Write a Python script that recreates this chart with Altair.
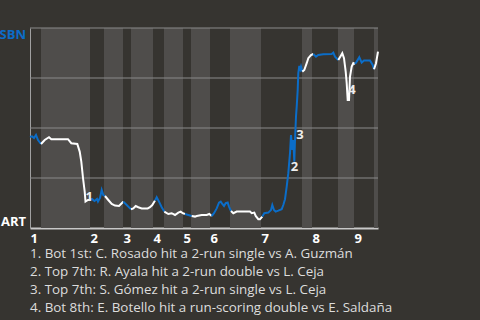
import altair as alt
import pandas as pd

# half-inning boundaries along the game timeline (top halves = SBN batting)
half_bounds = [0, 11, 60, 74, 93, 101, 123, 134, 153, 161, 180, 200, 231, 272, 282, 308, 324, 344, 348]
inning_labels = ["1", "2", "3", "4", "5", "6", "7", "8", "9"]

# win probability for SBN (%) along the game timeline
wp_x = [0, 2, 4, 6, 8, 11, 14.7, 19, 21.3, 38, 41.3, 47.3, 49.7, 51.3, 53, 54.7, 55.5, 58, 60,
        62, 64.5, 67, 68, 70, 71.7, 73.3, 75, 78.3, 81.7, 85, 89, 91, 93.3, 96.7, 99.3, 101,
        103.3, 105.7, 108.3, 111.7, 117.7, 120, 122.3, 125, 126.7, 129, 131.7, 134.3, 138.3,
        141.7, 145, 148.3, 150.7, 152.7, 155, 158.3, 161.7, 165, 166.7, 171.7, 176.7, 179.3,
        181.7, 184, 186.7, 189, 190.7, 192.3, 194, 195.7, 197.7, 199, 201, 203.3, 206.7, 220,
        221.7, 224.3, 225.7, 228.3, 230, 232.3, 234.3, 238.3, 241, 242.3, 244, 245.7, 248.3,
        251.7, 253.3, 255, 256.7, 258.3, 260, 261, 262.3, 263.3, 264.3, 265, 266, 266.7, 267.7,
        268.3, 269.3, 270.3, 271, 272.3, 274.3, 276.7, 278.3, 281, 283.3, 286, 288.3, 293.3,
        301.7, 303.3, 305, 308.3, 310.7, 312.3, 314, 315.7, 316.7, 317.7, 319, 320, 321.7,
        323.3, 325, 326.7, 329.3, 331.7, 334, 340, 342.7, 344, 346, 348]
wp_y = [45.5, 45.8, 45, 46.5, 44, 42, 44, 45.4, 44.4, 44.4, 42.4, 42, 38.2, 33.2, 25, 18.2, 13.2, 14, 14,
        14.5, 13.5, 14.5, 13.2, 15, 19, 16.5, 16, 14, 12, 11.2, 11, 12, 13.2, 11.5, 10.2, 9.4,
        9.8, 11, 10.4, 9.8, 9.8, 10.4, 11.5, 13.7, 15.4, 13.2, 10.4, 8.2, 7,
        7.4, 6.5, 7.7, 8.2, 7.4, 7, 6.5, 6, 5.7, 6, 6.5, 6.5, 7,
        6, 7.4, 9.8, 12.7, 13.2, 12, 11, 12.4, 12.7, 10.7, 8.5, 7.4, 8.2, 8.2,
        7.4, 7.7, 6, 4.4, 4.4, 5.7, 7.4, 7.7, 9, 11.5, 9, 8.2, 8.7,
        9.4, 11.5, 14.4, 20.7, 27.4, 37.4, 46.5, 39, 44, 33.2, 44, 55.7, 60.7, 69,
        77.4, 81, 79.4, 80.7, 78.2, 79, 82.4, 84.9, 86.5, 87, 85.7, 86.5, 86.9,
        87, 87.7, 85.7, 84, 86, 87.4, 84.9, 78.2, 72.4, 64, 64, 75.7, 80.7,
        82.4, 82, 83.2, 85.4, 82.7, 83.7, 83.7, 81.5, 79.4, 82.4, 88.2]

# key plays
ann_x = [59.3, 264.5, 270, 322]
ann_y = [15.5, 30.5, 46.5, 69]
ann_label = ["1", "2", "3", "4"]
notes = [
    "1. Bot 1st: C. Rosado hit a 2-run single vs A. Guzmán",
    "2. Top 7th: R. Ayala hit a 2-run double vs L. Ceja",
    "3. Top 7th: S. Gómez hit a 2-run single vs L. Ceja",
    "4. Bot 8th: E. Botello hit a run-scoring double vs E. Saldaña",
]

BG = "#363430"
BAND = "#4f4d4b"
BLUE = "#0b6dc8"
FONT = "Open Sans"

# bands
bands = pd.DataFrame({
    "start": half_bounds[:-1],
    "end": half_bounds[1:],
    "half": ["top" if i % 2 == 0 else "bot" for i in range(len(half_bounds) - 1)],
})
light_bands = bands[bands["half"] == "bot"]

# line segments coloured by batting team
def half_index(x):
    h = 0
    for i, b in enumerate(half_bounds[:-1]):
        if x >= b:
            h = i
    return h

groups = {}
order = []
for x, y in zip(wp_x, wp_y):
    h = half_index(x)
    if h not in groups:
        groups[h] = []
        order.append(h)
    groups[h].append((x, y))
rows = []
for k, h in enumerate(order):
    pts = list(groups[h])
    if k + 1 < len(order):
        pts.append(groups[order[k + 1]][0])
    for x, y in pts:
        rows.append({"x": x, "y": y, "seg": k, "team": "SBN" if h % 2 == 0 else "ART"})
line_df = pd.DataFrame(rows)

xscale = alt.Scale(domain=[0, 348], nice=False, zero=False)
yscale = alt.Scale(domain=[0, 100], nice=False)

band_layer = alt.Chart(light_bands).mark_rect(color=BAND).encode(
    x=alt.X("start:Q", scale=xscale,
            axis=alt.Axis(values=half_bounds[0::2][:9],
                          labelExpr="indexof([0,60,93,123,153,180,231,282,324], datum.value) + 1",
                          labelAlign="left", labelFont=FONT, labelFontWeight="bold",
                          labelFontSize=13, labelColor="#ffffff", labelPadding=4,
                          ticks=False, grid=False, domainColor="#c8c8c8", domainWidth=2,
                          title=None, labelFlush=False)),
    x2="end:Q",
)

grid_layer = alt.Chart(pd.DataFrame({"g": [25, 50, 75, 100]})).mark_rule(
    color="#8a8a8a", strokeWidth=1
).encode(
    y=alt.Y("g:Q", scale=yscale,
            axis=alt.Axis(values=[], ticks=False, labels=False, grid=False,
                          domainColor="#a0a0a0", domainWidth=1, title=None)),
)

line_layer = alt.Chart(line_df).mark_line(strokeWidth=2, interpolate="linear").encode(
    x=alt.X("x:Q", scale=xscale),
    y=alt.Y("y:Q", scale=yscale),
    detail="seg:N",
    color=alt.Color("team:N", scale=alt.Scale(domain=["SBN", "ART"], range=[BLUE, "#ffffff"]),
                    legend=None),
    order="x:Q",
)

ann_df = pd.DataFrame({"x": ann_x, "y": ann_y, "label": ann_label})
ann_layer = alt.Chart(ann_df).mark_text(
    font=FONT, fontSize=13, fontWeight="bold", color="#eeeeee", align="center", baseline="middle"
).encode(x=alt.X("x:Q", scale=xscale), y=alt.Y("y:Q", scale=yscale), text="label:N")

sbn_layer = alt.Chart(pd.DataFrame({"y": [100], "t": ["SBN"]})).mark_text(
    font=FONT, fontSize=13, fontWeight="bold", color=BLUE, align="right", baseline="top", dy=1
).encode(x=alt.value(-4), y=alt.Y("y:Q", scale=yscale), text="t:N")

art_layer = alt.Chart(pd.DataFrame({"y": [0], "t": ["ART"]})).mark_text(
    font=FONT, fontSize=13, fontWeight="bold", color="#ffffff", align="right", baseline="bottom", dy=1
).encode(x=alt.value(-4), y=alt.Y("y:Q", scale=yscale), text="t:N")

chart = alt.layer(
    band_layer, grid_layer, line_layer, ann_layer, sbn_layer, art_layer
).properties(
    width=348,
    height=200,
    autosize=alt.AutoSizeParams(type="none"),
    padding={"left": 30, "top": 28, "right": 102, "bottom": 92},
    background=BG,
    title=alt.TitleParams(text=notes, orient="bottom", anchor="start", frame="group",
                          font=FONT, fontSize=13.4, fontWeight="normal", color="#dddddd",
                          lineHeight=18, offset=2, baseline="top"),
).configure_view(stroke=None)

chart.save("out.html", embed_options={"renderer": "svg", "actions": False})
